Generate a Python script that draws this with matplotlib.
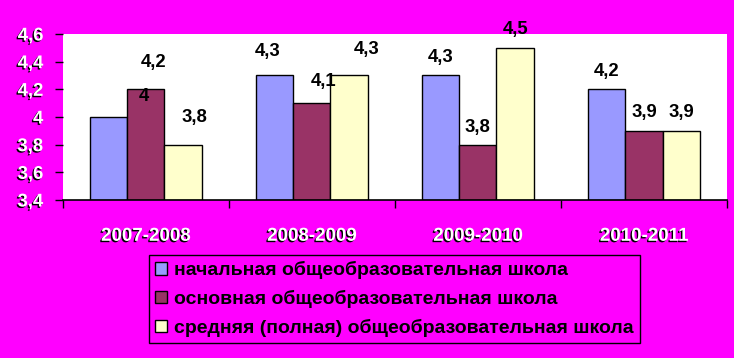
import matplotlib.pyplot as plt
import matplotlib.patheffects as pe
import numpy as np

plt.rcParams['font.family'] = ['Liberation Sans', 'DejaVu Sans']
plt.rcParams['font.weight'] = 'bold'

years = ["2007-2008", "2008-2009", "2009-2010", "2010-2011"]
series_names = [
    "начальная общеобразовательная школа",
    "основная общеобразовательная школа",
    "средняя (полная) общеобразовательная школа",
]
nachalnaya = [4.0, 4.3, 4.3, 4.2]
osnovnaya = [4.2, 4.1, 3.8, 3.9]
srednyaya = [3.8, 4.3, 4.5, 3.9]
y_ticks = [3.4, 3.6, 3.8, 4.0, 4.2, 4.4, 4.6]
y_tick_labels = ["3,4", "3,6", "3,8", "4", "4,2", "4,4", "4,6"]

colors = ["#9999FF", "#993366", "#FFFFCC"]
magenta = "#FF00FF"

# label offsets in pixels (dx, dy) from the top of each bar, as in the original
label_offsets = [
    [(35, 20), (-7, 24), (0, 18), (0, 18)],
    [(8, 27), (12, 22), (0, 17), (0, 18)],
    [(12, 27), (18, 26), (0, 18), (0, 18)],
]

fig = plt.figure(figsize=(7.34, 3.58), dpi=100, facecolor=magenta)
ax = fig.add_axes([62.7 / 734, 1 - 200 / 358, (727 - 62.7) / 734, 166 / 358])
ax.set_facecolor("white")

x = np.arange(len(years))
w = 0.224
all_series = [nachalnaya, osnovnaya, srednyaya]
handles = []
for j, vals in enumerate(all_series):
    pos = x + (j - 1) * w
    b = ax.bar(pos, np.array(vals) - 3.4, bottom=3.4, width=w, color=colors[j],
               edgecolor="black", linewidth=1, label=series_names[j], zorder=2)
    handles.append(b)
    for i, v in enumerate(vals):
        dx, dy = label_offsets[j][i]
        ax.annotate(f"{v:g}".replace(".", ","), xy=(pos[i], v), xytext=(dx, dy),
                    textcoords="offset pixels", ha="center", va="center",
                    fontsize=13.3, fontweight="bold", color="black", zorder=3)

ax.set_xlim(-0.5, 3.5)
ax.set_ylim(3.4, 4.6)

shadow = [pe.withSimplePatchShadow(offset=(-1, -1), shadow_rgbFace="black", alpha=1)]

ax.set_yticks(y_ticks)
ax.set_yticklabels(y_tick_labels)
ax.tick_params(axis="y", direction="out", length=6, width=1, pad=8,
               labelsize=13.3, labelcolor="white")

ax.set_xticks(np.arange(-0.5, 4, 1))
ax.set_xticklabels([])
ax.set_xticks(x, minor=True)
ax.set_xticklabels(years, minor=True)
ax.tick_params(axis="x", which="major", direction="out", length=6, width=1)
ax.tick_params(axis="x", which="minor", length=0, pad=20, labelsize=13.5,
               labelcolor="white")

for lab in ax.get_yticklabels() + ax.get_xticklabels(minor=True):
    lab.set_fontweight("bold")
    lab.set_path_effects(shadow)

for s in ["top", "right", "left"]:
    ax.spines[s].set_visible(False)
ax.spines["bottom"].set_linewidth(1.2)

leg = fig.legend(handles=handles, loc="center", bbox_to_anchor=(394.5 / 734, 1 - 299 / 358),
                 frameon=True, fancybox=False, facecolor=magenta, edgecolor="black",
                 prop={"size": 14, "weight": "bold"}, handlelength=0.6, handleheight=0.6,
                 handletextpad=0.4, labelspacing=0.55, borderpad=0.3, borderaxespad=0,
                 framealpha=1)
leg.get_frame().set_linewidth(1)

fig.savefig("out.png", dpi=100, facecolor=magenta)
